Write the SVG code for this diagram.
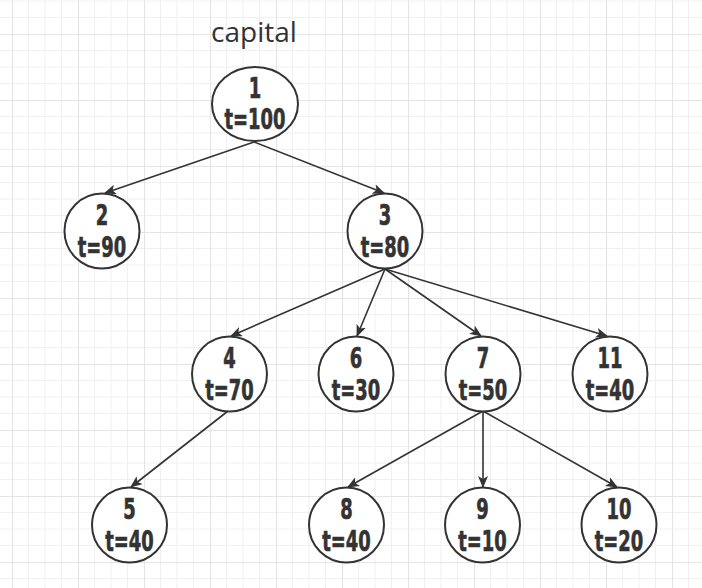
<svg xmlns="http://www.w3.org/2000/svg" width="702" height="588" viewBox="0 0 702 588">
  <style>
    .node ellipse { fill: #ffffff; stroke: #333333; stroke-width: 2; }
    .node text { font-family: "DejaVu Sans", "Liberation Sans", sans-serif; font-weight: bold; font-size: 28px; fill: #333333; stroke: #333333; stroke-width: 0.7; text-anchor: middle; }
    .edge { stroke: #333333; stroke-width: 1.6; fill: none; marker-end: url(#arrow); }
    .title { font-family: "Open Sans", "Noto Sans", sans-serif; font-size: 28px; fill: #333333; text-anchor: middle; }
  </style>
  <defs>
    <pattern id="grid" patternUnits="userSpaceOnUse" x="12" y="34" width="66" height="66">
      <path d="M16.5 0V66M33 0V66M49.5 0V66M0 16.5H66M0 33H66M0 49.5H66" stroke="#f0f0f0" stroke-width="1" fill="none"/>
      <path d="M0.5 0V66M0 0.5H66" stroke="#e4e4e4" stroke-width="1.2" fill="none"/>
    </pattern>
    <marker id="arrow" viewBox="0 0 12 10" refX="11" refY="5" markerWidth="12" markerHeight="10" markerUnits="userSpaceOnUse" orient="auto">
      <path d="M0 0L12 5L0 10L3 5Z" fill="#333333"/>
    </marker>
  </defs>

  <!-- background grid -->
  <rect width="702" height="588" fill="#ffffff"/>
  <rect width="702" height="588" fill="url(#grid)"/>

  <text class="title" x="254" y="42">capital</text>

  <!-- connectors -->
  <g id="edges">
    <line class="edge" x1="254" y1="142" x2="105" y2="193"/>
    <line class="edge" x1="254" y1="142" x2="384" y2="193"/>
    <line class="edge" x1="385" y1="269" x2="231" y2="336"/>
    <line class="edge" x1="385" y1="269" x2="357" y2="336"/>
    <line class="edge" x1="385" y1="269" x2="481" y2="336"/>
    <line class="edge" x1="385" y1="269" x2="607" y2="336"/>
    <line class="edge" x1="228" y1="411" x2="131" y2="487"/>
    <line class="edge" x1="483" y1="411" x2="348" y2="487"/>
    <line class="edge" x1="483" y1="411" x2="483" y2="487"/>
    <line class="edge" x1="483" y1="411" x2="617" y2="487"/>
  </g>

  <!-- nodes: labels are condensed horizontally -->
  <g id="n1" class="node"><ellipse cx="255" cy="104" rx="43" ry="37"/><text transform="translate(255 98) scale(0.64 1)">1</text><text transform="translate(255 129) scale(0.64 1)">t=100</text></g>
  <g id="n2" class="node"><ellipse cx="102" cy="231" rx="37.5" ry="37.5"/><text transform="translate(102 225) scale(0.64 1)">2</text><text transform="translate(102 256.5) scale(0.64 1)">t=90</text></g>
  <g id="n3" class="node"><ellipse cx="385" cy="231" rx="37.5" ry="37.5"/><text transform="translate(385 225) scale(0.64 1)">3</text><text transform="translate(385 256.5) scale(0.64 1)">t=80</text></g>
  <g id="n4" class="node"><ellipse cx="229.5" cy="374" rx="37.5" ry="37.5"/><text transform="translate(229.5 368) scale(0.64 1)">4</text><text transform="translate(229.5 399.5) scale(0.64 1)">t=70</text></g>
  <g id="n6" class="node"><ellipse cx="356" cy="374" rx="37.5" ry="37.5"/><text transform="translate(356 368) scale(0.64 1)">6</text><text transform="translate(356 399.5) scale(0.64 1)">t=30</text></g>
  <g id="n7" class="node"><ellipse cx="483" cy="374" rx="37.5" ry="37.5"/><text transform="translate(483 368) scale(0.64 1)">7</text><text transform="translate(483 399.5) scale(0.64 1)">t=50</text></g>
  <g id="n11" class="node"><ellipse cx="610" cy="374" rx="37.5" ry="37.5"/><text transform="translate(610 368) scale(0.64 1)">11</text><text transform="translate(610 399.5) scale(0.64 1)">t=40</text></g>
  <g id="n5" class="node"><ellipse cx="129.5" cy="525" rx="37.5" ry="37.5"/><text transform="translate(129.5 519) scale(0.64 1)">5</text><text transform="translate(129.5 550.5) scale(0.64 1)">t=40</text></g>
  <g id="n8" class="node"><ellipse cx="346.5" cy="525" rx="37.5" ry="37.5"/><text transform="translate(346.5 519) scale(0.64 1)">8</text><text transform="translate(346.5 550.5) scale(0.64 1)">t=40</text></g>
  <g id="n9" class="node"><ellipse cx="482.5" cy="525" rx="37.5" ry="37.5"/><text transform="translate(482.5 519) scale(0.64 1)">9</text><text transform="translate(482.5 550.5) scale(0.64 1)">t=10</text></g>
  <g id="n10" class="node"><ellipse cx="619" cy="525" rx="37.5" ry="37.5"/><text transform="translate(619 519) scale(0.64 1)">10</text><text transform="translate(619 550.5) scale(0.64 1)">t=20</text></g>
</svg>
